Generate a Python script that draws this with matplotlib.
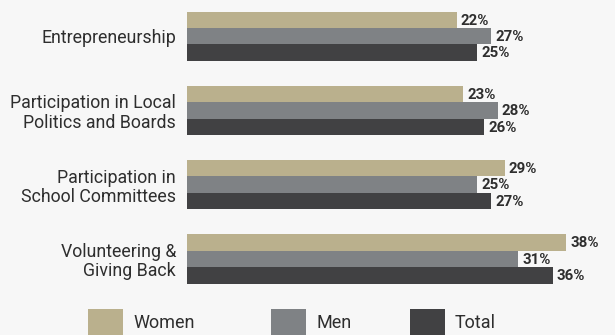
import matplotlib
matplotlib.use("Agg")
import matplotlib.pyplot as plt
from matplotlib.patches import Rectangle

plt.rcParams['font.family'] = ['Roboto', 'DejaVu Sans']

categories = ["Entrepreneurship",
              "Participation in Local\nPolitics and Boards",
              "Participation in\nSchool Committees",
              "Volunteering &\nGiving Back"]
series_names = ["Women", "Men", "Total"]
women = [22, 23, 29, 38]
men = [27, 28, 25, 31]
total = [25, 26, 27, 36]
value_labels = {
    "Women": ["22%", "23%", "29%", "38%"],
    "Men": ["27%", "28%", "25%", "31%"],
    "Total": ["25%", "26%", "27%", "36%"],
}

colors = {"Women": "#bab08d", "Men": "#7f8285", "Total": "#414143"}
bg = "#f7f7f7"
text_color = "#2e2e2e"

W, H, DPI = 615, 335, 100
fig = plt.figure(figsize=(W / DPI, H / DPI), dpi=DPI, facecolor=bg)

# axes placement in pixels
ax_left_px, ax_right_px = 187, 600
ax_top_px, ax_bot_px = 0, 290
ax = fig.add_axes([ax_left_px / W, 1 - ax_bot_px / H,
                   (ax_right_px - ax_left_px) / W, (ax_bot_px - ax_top_px) / H])
ax.set_facecolor(bg)

base = -17.3
px_per_unit = 6.86
ax.set_xlim(base, base + (ax_right_px - ax_left_px) / px_per_unit)

group_px = 74.2
first_center_px = 36.3
ax.set_ylim((ax_bot_px - first_center_px) / group_px, (ax_top_px - first_center_px) / group_px)

bar_h = 16.4 / group_px
offsets = [-bar_h, 0, bar_h]
data = {"Women": women, "Men": men, "Total": total}

for name, off in zip(series_names, offsets):
    vals = data[name]
    ys = [i + off for i in range(len(categories))]
    bars = ax.barh(ys, [v - base for v in vals], left=base, height=bar_h,
                   color=colors[name], edgecolor='none')
    for b, lab in zip(bars, value_labels[name]):
        ax.annotate(lab, (b.get_x() + b.get_width(), b.get_y() + b.get_height() / 2),
                    xytext=(3, -0.5), textcoords='offset points',
                    ha='left', va='center', fontsize=10.8, fontweight='bold',
                    color=text_color)

ax.set_yticks(range(len(categories)))
ax.set_yticklabels(categories, fontsize=12.8, color=text_color, linespacing=1.1)
ax.tick_params(axis='y', length=0, pad=8)
ax.set_xticks([])
for s in ax.spines.values():
    s.set_visible(False)

# legend
sq_w, sq_top, sq_h = 35, 309, 30
legend_x = {"Women": 88, "Men": 271, "Total": 410}
for name in series_names:
    x0 = legend_x[name]
    fig.patches.append(Rectangle((x0 / W, 1 - (sq_top + sq_h) / H), sq_w / W, sq_h / H,
                                 transform=fig.transFigure, facecolor=colors[name],
                                 edgecolor='none'))
    fig.text((x0 + sq_w + 10) / W, 1 - 323 / H, name, fontsize=13,
             color=text_color, ha='left', va='center')

fig.savefig("out.png", dpi=DPI, facecolor=bg)
